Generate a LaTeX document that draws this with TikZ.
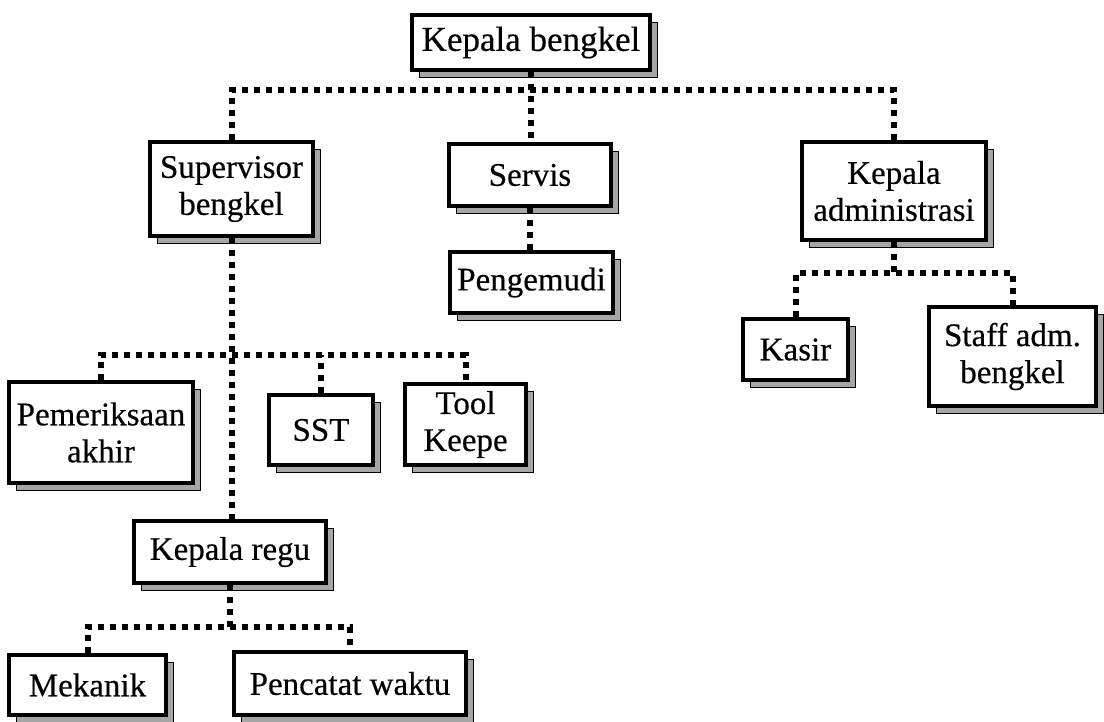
\documentclass[tikz,border=0pt]{standalone}
\usepackage{fontspec}
\setmainfont{Liberation Serif}
\newfontfamily\boxfont[FakeBold=0.4]{Liberation Serif}
\usetikzlibrary{shadows}
\begin{document}
\begin{tikzpicture}[x=1pt,y=-1pt,
  unit/.style={draw=black, line width=4pt, fill=white, align=center,
    inner sep=0pt, font=\boxfont\fontsize{33}{37}\selectfont,
    general shadow={shadow xshift=7pt, shadow yshift=-7pt,
      fill=black!35, draw=black, line width=0.8pt}},
  conn/.style={line width=6pt, dash pattern=on 6pt off 6pt}]
\useasboundingbox (0,0) rectangle (1104,721);

% organisation units (outer size less the border width)
\node[unit, minimum width=238pt, minimum height=55pt, font=\boxfont\fontsize{35}{37}\selectfont] (kb) at (531,42.5) {Kepala bengkel};
\node[unit, minimum width=163pt, minimum height=94pt] (sup)   at (231.5,189)  {Supervisor\\bengkel};
\node[unit, minimum width=162pt, minimum height=62pt] (serv)  at (530,175)    {Servis};
\node[unit, minimum width=163pt, minimum height=61pt] (peng)  at (531.5,282.5){Pengemudi};
\node[unit, minimum width=184pt, minimum height=98pt] (kadm)  at (894,191)    {Kepala\\administrasi};
\node[unit, minimum width=105pt, minimum height=61pt] (kasir) at (795.5,349.5) {Kasir};
\node[unit, minimum width=167pt, minimum height=99pt] (staff) at (1012.5,356.5){Staff adm.\\bengkel};
\node[unit, minimum width=184pt, minimum height=101pt] (pem)  at (101,432.5)  {Pemeriksaan\\akhir};
\node[unit, minimum width=104pt, minimum height=70pt] (sst)   at (321,430)    {SST};
\node[unit, minimum width=121pt, minimum height=81pt] (tool)  at (465.5,424.5){Tool\\Keepe};
\node[unit, minimum width=192pt, minimum height=62pt] (regu)  at (230,552)    {Kepala regu};
\node[unit, minimum width=157pt, minimum height=60pt] (mek)   at (87.5,685)   {Mekanik};
\node[unit, minimum width=232pt, minimum height=63pt] (penc)  at (350,683.5)  {Pencatat waktu};

% bus levels
\coordinate (b1) at (0,90);
\coordinate (b2) at (0,273);
\coordinate (b3) at (0,355);
\coordinate (b4) at (0,627);

% head of workshop
\draw[conn] (sup.north) |- (kadm.north |- b1) -- (kadm.north);
\draw[conn] (kb.south) -- (kb.south |- serv.north);
% service
\draw[conn] (serv.south) -- (serv.south |- peng.north);
% administration
\draw[conn] (kasir.north) |- (staff.north |- b2) -- (staff.north);
\draw[conn] (kadm.south) -- (kadm.south |- b2);
% workshop supervisor
\draw[conn] (pem.north) |- (tool.north |- b3) -- (tool.north);
\draw[conn] (sst.north) -- (sst.north |- b3);
\draw[conn] (sup.south) -- (sup.south |- regu.north);
% team leader
\draw[conn] (mek.north) |- (penc.north |- b4) -- (penc.north);
\draw[conn] (regu.south) -- (regu.south |- b4);
\end{tikzpicture}
\end{document}
